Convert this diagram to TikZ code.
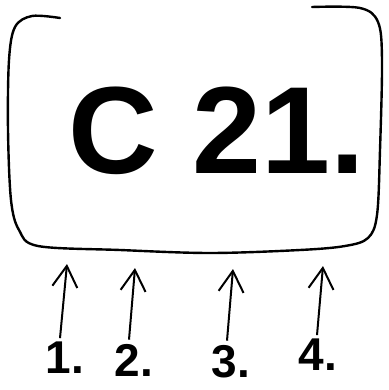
\documentclass[tikz,border=0pt]{standalone}
\usepackage{fontspec}
\setmainfont{Liberation Sans}
\usepackage{tikz}
\usetikzlibrary{arrows.meta}

\begin{document}
\begin{tikzpicture}[
  x=1pt, y=-1pt,
  frame/.style={line width=2.4pt, line cap=round, line join=round},
  arr/.style={-{Straight Barb[length=21pt, width=25pt, line width=2pt]}, line width=2pt},
  num/.style={anchor=base, inner sep=0pt, font=\bfseries\fontsize{46}{46}\selectfont},
  code/.style={anchor=base, inner sep=0pt, font=\bfseries\fontsize{124}{124}\selectfont},
]
  \useasboundingbox (0,0) rectangle (388,390);

  % hand drawn frame
  \draw[frame] plot[smooth, tension=0.55] coordinates {
    (60,18) (32,16) (15,27) (9,60) (8,130) (11,200) (19,230) (38,246)
    (120,250) (210,253) (300,250) (345,246) (368,238) (377,215)
    (380,150) (382,60) (378,22) (360,8) (312,7)};

  \node[code] (plate) at (217,173) {C 21.};

  \node[num] (l1) at (65,373) {1.};
  \node[num] (l2) at (134,376) {2.};
  \node[num] (l3) at (231,377) {3.};
  \node[num] (l4) at (318,370) {4.};

  \coordinate (t1) at (67,264);
  \coordinate (t2) at (135,268);
  \coordinate (t3) at (233,269);
  \coordinate (t4) at (323,266);

  \draw[arr] ([xshift=-5pt, yshift=3pt]l1.north) -- (t1);
  \draw[arr] ([xshift=-5pt, yshift=4pt]l2.north) -- (t2);
  \draw[arr] ([xshift=-4pt, yshift=4pt]l3.north) -- (t3);
  \draw[arr] ([xshift=-1pt, yshift=3pt]l4.north) -- (t4);
\end{tikzpicture}
\end{document}
